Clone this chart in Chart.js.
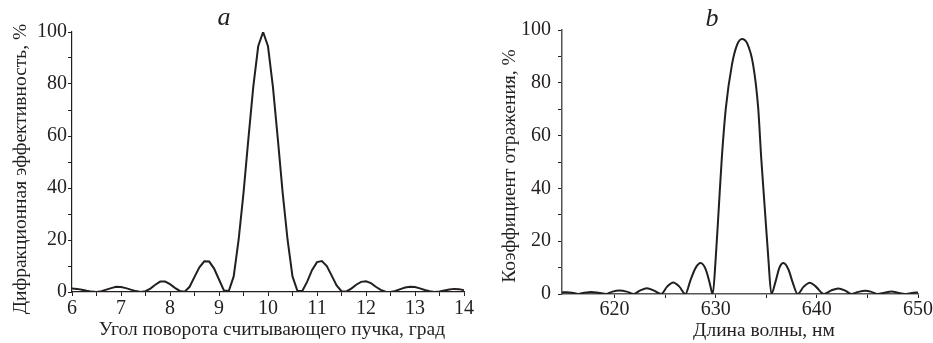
<!DOCTYPE html>
<html>
<head>
<meta charset="utf-8">
<script src="https://cdn.jsdelivr.net/npm/chart.js@4"></script>
<style>
  html, body { margin: 0; padding: 0; background: #fff; }
  body { width: 933px; height: 343px; position: relative; overflow: hidden; }
  canvas { position: absolute; top: 0; }
  #chartA { left: 0; }
  #chartB { left: 480px; }
</style>
</head>
<body>
<canvas id="chartA" width="480" height="343"></canvas>
<canvas id="chartB" width="453" height="343"></canvas>
<script>
// (a) diffraction efficiency vs. readout beam angle
const angleA = [
  6.0, 6.1, 6.2, 6.3, 6.4, 6.5, 6.6, 6.7, 6.8, 6.9,
  7.0, 7.1, 7.2, 7.3, 7.4, 7.5, 7.6, 7.7, 7.8, 7.9,
  8.0, 8.1, 8.2, 8.3, 8.4, 8.5, 8.6, 8.7, 8.8, 8.9,
  9.0, 9.1, 9.2, 9.3, 9.4, 9.5, 9.6, 9.7, 9.8, 9.9,
  10.0, 10.1, 10.2, 10.3, 10.4, 10.5, 10.6, 10.7, 10.8, 10.9,
  11.0, 11.1, 11.2, 11.3, 11.4, 11.5, 11.6, 11.7, 11.8, 11.9,
  12.0, 12.1, 12.2, 12.3, 12.4, 12.5, 12.6, 12.7, 12.8, 12.9,
  13.0, 13.1, 13.2, 13.3, 13.4, 13.5, 13.6, 13.7, 13.8, 13.9,
  14.0
];
const effA = [
  1.3, 1.2, 0.9, 0.5, 0.15, 0, 0.3, 0.9, 1.5, 2.0,
  1.9, 1.5, 0.9, 0.35, 0, 0.3, 1.3, 2.8, 4.0, 4.0,
  3.0, 1.6, 0.4, 0.1, 2.0, 5.8, 9.5, 11.8, 11.7, 9.0,
  4.8, 0.6, 0.4, 6, 20, 38, 59, 79, 94.5, 100,
  94.5, 79, 59, 38, 20, 6, 0.5, 0.4, 4, 8.5,
  11.5, 11.9, 10, 6.3, 2.5, 0.3, 0.2, 1.3, 2.8, 3.9,
  4.1, 3.4, 2.0, 0.8, 0.1, 0, 0.4, 1.1, 1.7, 2.0,
  1.9, 1.4, 0.8, 0.3, 0, 0.2, 0.6, 1.0, 1.2, 1.1,
  0.7
];
const angleTicks = [6, 6.5, 7, 7.5, 8, 8.5, 9, 9.5, 10, 10.5, 11, 11.5, 12, 12.5, 13, 13.5, 14];

// (b) reflection coefficient vs. wavelength
const waveB = [
  614.8, 615.3, 615.8, 616.4, 617.0, 617.7, 618.4, 619.2,
  619.8, 620.5, 621.2, 621.9, 622.5, 623.2, 623.9, 624.6,
  625.2, 625.8, 626.4, 627.0, 627.5, 628.0, 628.5, 629.0, 629.4, 629.7,
  630.0, 630.3, 630.6, 631.0, 631.6, 632.1, 632.6,
  633.1, 633.7, 634.2, 634.5, 634.85, 635.2, 635.5,
  635.9, 636.3, 636.7, 637.2, 637.6, 638.1,
  638.7, 639.3, 639.9, 640.7, 641.4, 642.1, 642.8, 643.4,
  644.1, 644.8, 645.4, 646.0, 646.7, 647.4, 648.0, 648.7,
  649.4, 650.0
];
const reflB = [
  0.6, 0.7, 0.5, 0, 0.5, 0.8, 0.5, 0,
  0.9, 1.3, 0.9, 0, 1.3, 2.2, 1.3, 0,
  2.8, 4.4, 2.8, 0, 5.2, 9.8, 11.7, 9.4, 4.2, 0,
  13.6, 32.5, 51.4, 70.4, 86.8, 94.3, 96.6,
  95, 86.8, 70.4, 51.4, 32.5, 13.6, 0,
  4.5, 10, 11.7, 9.2, 4.5, 0,
  2.8, 4.3, 2.8, 0, 1.3, 2.1, 1.3, 0,
  0.8, 1.2, 0.8, 0, 0.5, 0.9, 0.5, 0,
  0.4, 0.6
];
const waveTicks = [620, 625, 630, 635, 640, 645, 650];

const percentTicks = [0, 10, 20, 30, 40, 50, 60, 70, 80, 90, 100];

const INK = '#231f20';
const SERIF = '"Liberation Serif", "Times New Roman", serif';
const tickFont = { family: SERIF, size: 20 };
const captionFont = '19.5px ' + SERIF;

// draws the panel letter and axis captions as plain canvas text
const captions = items => ({
  id: 'captions',
  afterDraw(chart) {
    const ctx = chart.ctx;
    items.forEach(it => {
      ctx.save();
      ctx.font = it.font || captionFont;
      ctx.fillStyle = INK;
      ctx.textAlign = 'center';
      ctx.textBaseline = 'alphabetic';
      ctx.translate(it.x, it.y);
      if (it.vertical) ctx.rotate(-Math.PI / 2);
      ctx.fillText(it.text, 0, 0);
      ctx.restore();
    });
  }
});

function panel(canvasId, p) {
  return new Chart(document.getElementById(canvasId), {
    type: 'line',
    data: {
      datasets: [{
        data: p.xs.map((x, i) => ({ x, y: p.ys[i] })),
        borderColor: INK,
        borderWidth: p.lineWidth,
        pointRadius: 0,
        fill: false,
        tension: 0,
        cubicInterpolationMode: p.smooth ? 'monotone' : 'default'
      }]
    },
    options: {
      responsive: false,
      animation: false,
      events: [],
      layout: { padding: { left: 0, top: p.top, right: p.right, bottom: 0 } },
      plugins: { legend: { display: false }, tooltip: { enabled: false } },
      scales: {
        x: {
          type: 'linear',
          min: p.xMin,
          max: p.xMax,
          afterBuildTicks: s => { s.ticks = p.xTicks.map(v => ({ value: v })); },
          afterFit: s => { s.height = p.xHeight; s.paddingLeft = 0; s.paddingRight = 0; },
          grid: { drawOnChartArea: false, drawTicks: true, tickLength: 4, tickColor: INK, lineWidth: 1 },
          border: { display: true, color: p.axisColor, width: p.axisWidth },
          ticks: {
            autoSkip: false, maxRotation: 0, padding: p.xPad, color: INK, font: tickFont,
            callback: v => (v % p.xLabelStep === 0 ? String(v) : '')
          }
        },
        y: {
          min: 0,
          max: 100,
          afterBuildTicks: s => { s.ticks = percentTicks.map(v => ({ value: v })); },
          afterFit: s => { s.width = p.yWidth; s.paddingTop = 0; s.paddingBottom = 0; },
          grid: { drawOnChartArea: false, drawTicks: true, tickLength: 4, tickColor: INK, lineWidth: 1 },
          border: { display: true, color: p.axisColor, width: p.axisWidth },
          ticks: {
            autoSkip: false, padding: p.yPad, color: INK, font: tickFont,
            callback: v => (v % 20 === 0 ? String(v) : '')
          }
        }
      }
    },
    plugins: [captions(p.captions)]
  });
}

panel('chartA', {
  xs: angleA, ys: effA, xMin: 6, xMax: 14, xTicks: angleTicks, xLabelStep: 1,
  lineWidth: 2, smooth: false, axisColor: INK, axisWidth: 1.2,
  top: 32, right: 16, xHeight: 51, yWidth: 72, xPad: 1, yPad: 1,
  captions: [
    { text: 'a', x: 224, y: 25, font: 'italic 26px ' + SERIF },
    { text: 'Угол поворота считывающего пучка, град', x: 272, y: 335 },
    { text: 'Дифракционная эффективность, %', x: 26, y: 169, vertical: true }
  ]
});

panel('chartB', {
  xs: waveB, ys: reflB, xMin: 614.8, xMax: 650, xTicks: waveTicks, xLabelStep: 10,
  lineWidth: 2, smooth: true, axisColor: '#555', axisWidth: 1.5,
  top: 30, right: 15, xHeight: 49, yWidth: 82, xPad: 0, yPad: 7,
  captions: [
    { text: 'b', x: 232, y: 26, font: 'italic 26px ' + SERIF },
    { text: 'Длина волны, нм', x: 284, y: 336 },
    { text: 'Коэффициент отражения, %', x: 35, y: 166, vertical: true }
  ]
});
</script>
</body>
</html>
